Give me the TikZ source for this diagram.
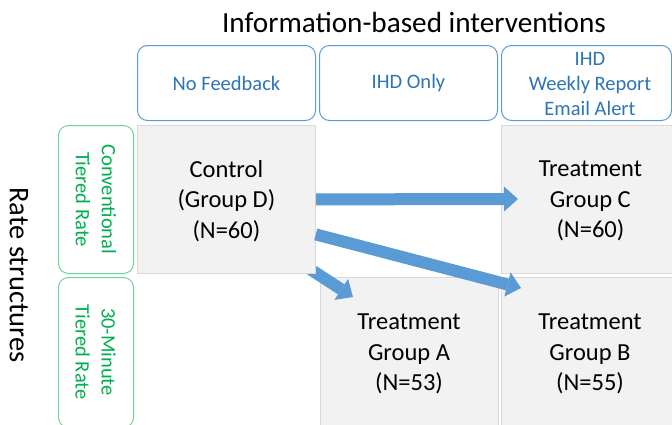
\documentclass[tikz,border=0pt]{standalone}
\usepackage{fontspec}
\setmainfont{Carlito}
\usetikzlibrary{arrows.meta,calc}
\definecolor{hdrline}{HTML}{5B9BD5}
\definecolor{hdrtext}{HTML}{2E75B6}
\definecolor{grnline}{HTML}{6DD49A}
\definecolor{grntext}{HTML}{00B050}
\definecolor{cellfill}{HTML}{F2F2F2}
\definecolor{cellline}{HTML}{D9D9D9}
\definecolor{arrowblue}{HTML}{5B9BD5}
\tikzset{
  hdrbox/.style={draw=hdrline, line width=1pt, rounded corners=10pt, fill=white,
    minimum width=178pt, minimum height=75pt, anchor=north west, inner sep=0pt,
    text=hdrtext, font=\fontsize{20.5}{25}\selectfont, align=center},
  hdrtxt/.style={text=hdrtext, font=\fontsize{20.5}{25}\selectfont, align=center, inner sep=0pt},
  rowbox/.style={draw=grnline, line width=1pt, rounded corners=10pt, fill=white,
    minimum width=75pt, minimum height=148pt, anchor=north west, inner sep=0pt},
  rowtxt/.style={text=grntext, font=\fontsize{20.5}{26}\selectfont, align=center, rotate=-90, inner sep=0pt},
  cell/.style={draw=cellline, line width=0.8pt, fill=cellfill,
    minimum width=178pt, minimum height=148pt, anchor=north west, inner sep=0pt},
  celltxt/.style={font=\fontsize{24.5}{30.5}\selectfont, align=center, inner sep=0pt},
  bigarrow/.style={draw=arrowblue, line width=12pt,
    -{Triangle[width=25pt,length=14pt,line width=0pt]}, fill=none},
}
\begin{document}
\begin{tikzpicture}[x=1pt,y=-1pt]
\useasboundingbox (0,0) rectangle (672,424);
\clip (0,0) rectangle (672,424);
% title
\node[font=\fontsize{29.2}{34}\selectfont, inner sep=0pt] (title) at (414,22) {Information-based interventions};
\node[font=\fontsize{28.5}{34}\selectfont, rotate=-90, inner sep=0pt] (rates) at (19,275) {Rate structures};
% headers
\node[hdrbox] (h1) at (137,45) {No Feedback};
\node[hdrbox] (h2) at (319,45) {IHD Only};
\node[hdrbox, minimum width=170pt] (h3) at (501,45) {};
\node[hdrtxt] (h3t) at (590,84) {IHD\\Weekly Report\\Email Alert};
% row labels
\node[rowbox] (r1) at (58,125) {};
\node[rowtxt] (r1t) at (r1.center) {Conventional\\Tiered Rate};
\node[rowbox, minimum height=150pt] (r2) at (58,277) {};
\node[rowtxt] (r2t) at (95.5,352) {30-Minute\\Tiered Rate};
% lower cells first
\node[cell, minimum height=152pt] (grpA) at (320,277) {};
\node[celltxt] (grpAt) at (409,354) {Treatment\\Group A\\(N=53)};
\node[cell, minimum height=152pt] (grpB) at (501,277) {};
\node[celltxt] (grpBt) at (590,354) {Treatment\\Group B\\(N=55)};
% arrow partly hidden behind control box
\coordinate (a3s) at (293,258);
\coordinate (tipA) at (353,297);
\draw[bigarrow] (a3s) -- (tipA);
% upper cells
\node[cell] (ctrl) at (137,125) {};
\node[celltxt] (ctrlt) at ($(ctrl.center)+(0,1.5)$) {Control\\(Group D)\\(N=60)};
\node[cell] (grpC) at (501,125) {};
\node[celltxt] (grpCt) at ($(grpC.center)+(0,1.5)$) {Treatment\\Group C\\(N=60)};
% arrows
\coordinate (tipC) at (518,199);
\coordinate (tipB) at (521,288);
\draw[bigarrow] (ctrl.east) -- (tipC);
\draw[bigarrow] ($(ctrl.east)+(0,35)$) -- (tipB);
\end{tikzpicture}
\end{document}
